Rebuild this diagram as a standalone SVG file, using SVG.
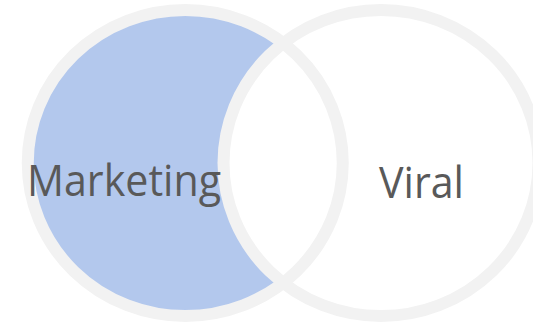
<svg xmlns="http://www.w3.org/2000/svg" width="533" height="328" viewBox="0 0 533 328">
  <style>
    .ring { fill: none; stroke: #f2f2f2; stroke-width: 12; }
    .label { font-family: "Open Sans", "Noto Sans", sans-serif; font-size: 43px; fill: #595959; }
  </style>
  <rect width="533" height="328" fill="#ffffff"/>
  <g id="marketing">
    <ellipse cx="185.25" cy="163" rx="157.5" ry="153" fill="#b3c8ed"/>
  </g>
  <g id="viral">
    <ellipse cx="381" cy="163" rx="157.5" ry="153" fill="#ffffff"/>
  </g>
  <g id="rings">
    <ellipse class="ring" cx="185.25" cy="163" rx="157.5" ry="153"/>
    <ellipse class="ring" cx="381" cy="163" rx="157.5" ry="153"/>
  </g>
  <g id="labels">
    <text class="label" x="27" y="196" textLength="194" lengthAdjust="spacingAndGlyphs">Marketing</text>
    <text class="label" x="379" y="198.3" textLength="85" lengthAdjust="spacingAndGlyphs">Viral</text>
  </g>
</svg>
